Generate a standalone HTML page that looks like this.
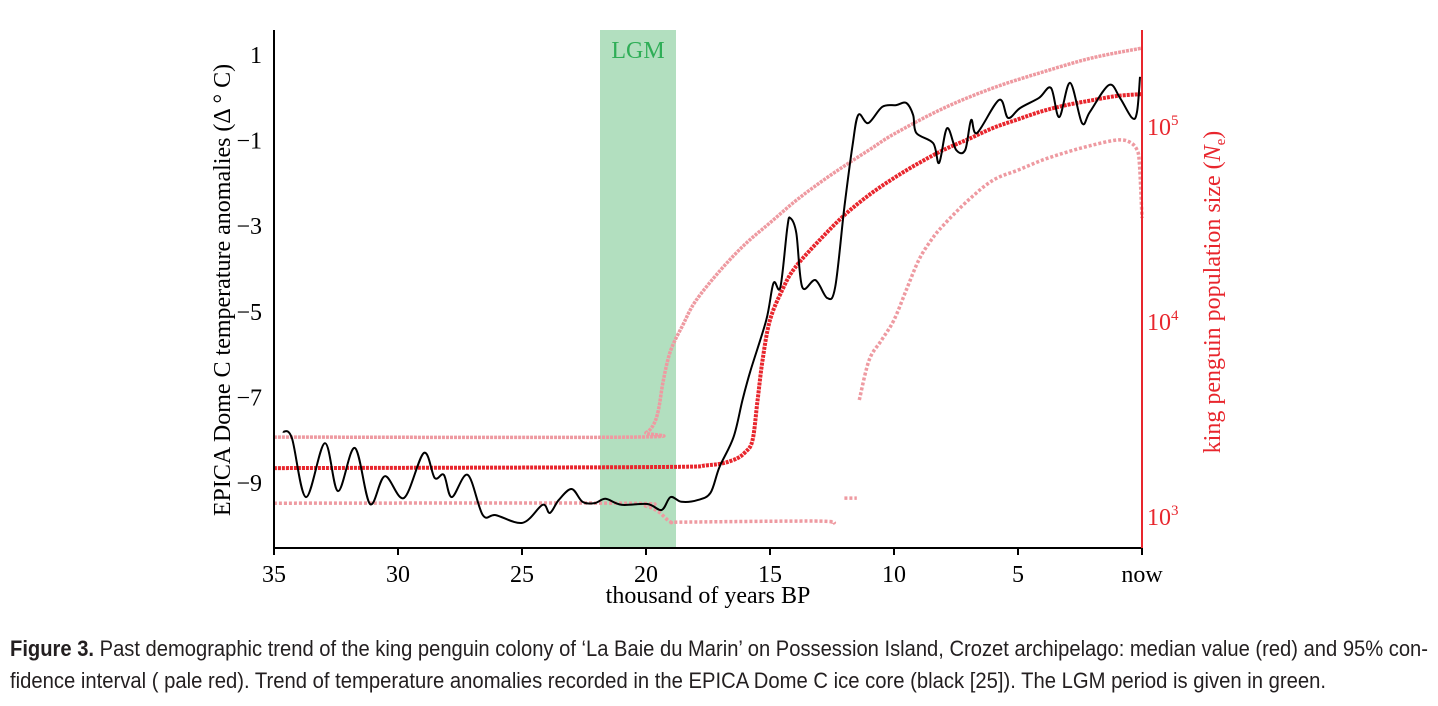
<!DOCTYPE html>
<html><head><meta charset="utf-8"><style>
html,body{margin:0;padding:0;background:#fff;}
svg{display:block;}
text{font-family:"Liberation Serif",serif;}
.cap{font-family:"Liberation Sans",sans-serif;font-size:22px;fill:#231f20;}
</style></head><body>
<svg id="chart" width="1438" height="706" viewBox="0 0 1438 706">
<rect x="600" y="30" width="76" height="518" fill="#b2dfbf"/>
<text x="638" y="58" font-size="24" fill="#2fae57" text-anchor="middle">LGM</text>
<g id="series"></g>
<line x1="274" y1="30" x2="274" y2="548" stroke="#000" stroke-width="2"/>
<line x1="274" y1="548" x2="1142" y2="548" stroke="#000" stroke-width="2"/>
<line x1="1142" y1="30" x2="1142" y2="548" stroke="#e8262d" stroke-width="2"/>
<g id="ticks"></g>
<text transform="translate(230,290) rotate(-90)" font-size="24" text-anchor="middle" fill="#000">EPICA Dome C temperature anomalies (Δ ° C)</text>
<text transform="translate(1220,292) rotate(-90)" font-size="24" text-anchor="middle" fill="#e8262d">king penguin population size (<tspan font-style="italic">N</tspan><tspan font-size="15" dy="5">e</tspan><tspan dy="-5">)</tspan></text>
<text x="708" y="603" font-size="24" text-anchor="middle">thousand of years BP</text>
<text class="cap" x="10" y="656" textLength="1418" lengthAdjust="spacingAndGlyphs"><tspan font-weight="bold">Figure 3.</tspan> Past demographic trend of the king penguin colony of ‘La Baie du Marin’ on Possession Island, Crozet archipelago: median value (red) and 95% con-</text>
<text class="cap" x="10" y="688" textLength="1316" lengthAdjust="spacingAndGlyphs">fidence interval ( pale red). Trend of temperature anomalies recorded in the EPICA Dome C ice core (black [25]). The LGM period is given in green.</text>
</svg>
<script>
const xTicks=[35,30,25,20,15,10,5,0];
const xTickLabels=["35","30","25","20","15","10","5","now"];
const tempTicks=[1,-1,-3,-5,-7,-9];
const popTicks=[5,4,3];
const medianKyr=[35,20,17.5,16.5,16,15.7,15.5,15.3,15,14.5,14,13,12,11,10,9,8,7,6,5,4,3,2,1,0];
const medianN=[1740,1760,1800,1910,2100,2430,3890,6240,10000,14300,18500,25700,34500,43800,53500,63800,74500,84700,96600,107000,118000,127000,134000,141000,144000];
const upperKyr=[35,20.5,20,19.7,19.5,19.3,19,18.5,18,17,16,15,14,13,12,11,10,8,6,4,2,0];
const upperN=[2510,2510,2640,2900,3450,4920,7010,9500,12500,18000,24500,31500,40500,50500,61700,74500,89900,122000,155000,187000,221000,248000];
const lowerKyr=[35,21,20,19.5,19,18.5,13,12.5,null,12,11.5,null,11.4,11,10.5,10,9.5,9,8.5,8,7,6,5,4,3,2,1,0.5,0.2,0.1,0];
const lowerN=[1150,1150,1110,1040,920,920,930,900,null,1220,1220,null,3890,6240,7890,10000,14300,20300,25700,30700,41200,52200,58700,66200,72800,78900,83800,81800,74500,62400,33300];
const tempKyr=[34.64,34.28,33.71,32.95,32.42,31.74,31.13,30.53,29.76,28.96,28.52,28.15,27.83,27.19,26.58,26.06,24.97,24.17,23.88,23.52,23.0,22.56,22.07,21.63,20.99,19.94,19.37,19.01,18.57,17.92,17.40,17.04,16.47,16.11,15.8,15.15,14.86,14.58,14.30,14.18,13.94,13.70,13.17,12.69,12.37,12.00,11.68,11.44,11.04,10.47,9.91,9.51,9.23,9.10,8.42,8.18,7.86,7.49,7.13,6.89,6.65,5.76,5.40,4.92,4.15,3.67,3.34,2.90,2.42,2.10,1.33,0.89,0.40,0.20,0.08];
const tempVal=[-7.80,-7.95,-9.33,-8.07,-9.19,-8.18,-9.49,-8.84,-9.35,-8.30,-8.88,-8.81,-9.33,-8.81,-9.75,-9.75,-9.93,-9.51,-9.70,-9.40,-9.14,-9.44,-9.47,-9.37,-9.51,-9.49,-9.63,-9.33,-9.44,-9.40,-9.23,-8.63,-7.93,-7.06,-6.4,-5.19,-4.33,-4.42,-3.02,-2.81,-3.16,-4.42,-4.26,-4.68,-4.42,-2.55,-1.15,-0.40,-0.59,-0.21,-0.17,-0.12,-0.40,-0.82,-1.06,-1.52,-0.71,-1.22,-1.22,-0.52,-0.82,-0.05,-0.47,-0.24,0.00,0.23,-0.45,0.35,-0.59,-0.33,0.30,0.00,-0.47,-0.33,0.49];

const NS="http://www.w3.org/2000/svg";
function X(k){return 274+(35-k)*(868/35);}
function YT(t){return 55+(1-t)*42.8;}
function YN(n){return 125+(5-Math.log10(n))*195;}
function mk(tag,attrs,parent){const e=document.createElementNS(NS,tag);for(const k in attrs)e.setAttribute(k,attrs[k]);parent.appendChild(e);return e;}
function smooth(pts){
  if(pts.length<2)return "";
  let d="M"+pts[0][0].toFixed(1)+","+pts[0][1].toFixed(1);
  for(let i=0;i<pts.length-1;i++){
    const p0=pts[Math.max(0,i-1)],p1=pts[i],p2=pts[i+1],p3=pts[Math.min(pts.length-1,i+2)];
    const c1=[p1[0]+(p2[0]-p0[0])/6,p1[1]+(p2[1]-p0[1])/6];
    const c2=[p2[0]-(p3[0]-p1[0])/6,p2[1]-(p3[1]-p1[1])/6];
    d+="C"+c1[0].toFixed(1)+","+c1[1].toFixed(1)+" "+c2[0].toFixed(1)+","+c2[1].toFixed(1)+" "+p2[0].toFixed(1)+","+p2[1].toFixed(1);
  }
  return d;
}
function segments(ks,vs,yf){
  const segs=[];let cur=[];
  for(let i=0;i<ks.length;i++){
    if(ks[i]===null){if(cur.length)segs.push(cur);cur=[];continue;}
    cur.push([X(ks[i]),yf(vs[i])]);
  }
  if(cur.length)segs.push(cur);
  return segs;
}
const g=document.getElementById('series');
const tg=document.getElementById('ticks');

segments(upperKyr,upperN,YN).forEach(s=>{
  const p=mk('path',{d:smooth(s),fill:'none',stroke:'#ee9aa1','stroke-width':3.5,'stroke-dasharray':'3 1'},g);
  
  
});
segments(lowerKyr,lowerN,YN).forEach(s=>{
  const p=mk('path',{d:s.length>2?smooth(s):("M"+s.map(q=>q[0]+","+q[1]).join("L")),fill:'none',stroke:'#ee9aa1','stroke-width':3.5,'stroke-dasharray':'3 2'},g);
  
  
});
segments(medianKyr,medianN,YN).forEach(s=>{
  const p=mk('path',{d:smooth(s),fill:'none',stroke:'#e8262d','stroke-width':4,'stroke-dasharray':'3 1'},g);
  
  
});
segments(tempKyr,tempVal,YT).forEach(s=>{
  const p=mk('path',{d:smooth(s),fill:'none',stroke:'#000','stroke-width':2},g);
  
  
});

xTicks.forEach((k,i)=>{
  const l=mk('line',{x1:X(k),x2:X(k),y1:548,y2:555,stroke:'#000','stroke-width':2},tg);
  
  
  const t=mk('text',{x:X(k),y:582,'font-size':24,'text-anchor':'middle'},tg);
  t.textContent=xTickLabels[i];
  
  
});
tempTicks.forEach(v=>{
  const t=mk('text',{x:262,y:YT(v)+8,'font-size':24,'text-anchor':'end'},tg);
  t.textContent=(v<0?"\u2212":"")+Math.abs(v);
  
  
});
popTicks.forEach(p=>{
  const t=mk('text',{x:1147,y:YN(Math.pow(10,p))+10,'font-size':24,fill:'#e8262d'},tg);
  t.textContent="10";
  const s=mk('tspan',{'font-size':15,dy:-10},t);
  s.textContent=String(p);
  
  
});
</script>
</body></html>
